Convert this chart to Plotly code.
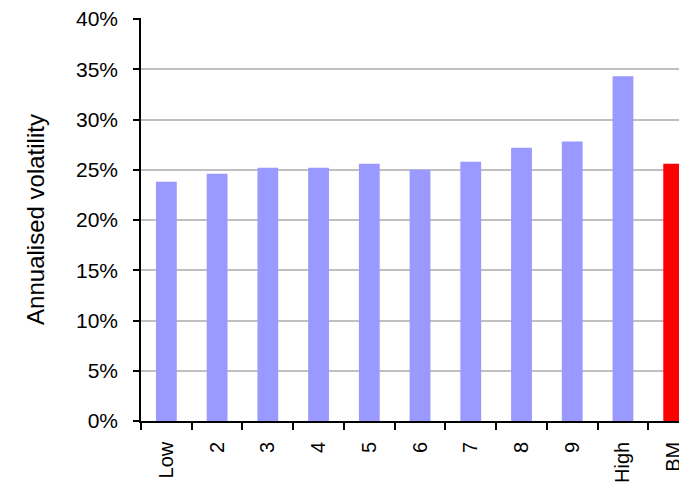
import plotly.graph_objects as go

FONT = "Arial, Liberation Sans, sans-serif"

# annualised volatility per decile, plus the benchmark
deciles = ["Low", "2", "3", "4", "5", "6", "7", "8", "9", "High", "BM"]
volatility = [0.238, 0.246, 0.252, 0.252, 0.256, 0.250, 0.258, 0.272, 0.278, 0.343, 0.256]
benchmark = "BM"

bar_colors = ["#FF0000" if d == benchmark else "#9999FF" for d in deciles]

fig = go.Figure(go.Bar(x=deciles, y=volatility, marker_color=bar_colors,
                       marker_line_width=0))

# the page body adds an 8px offset, so margins are shifted by that much
fig.update_layout(
    width=687, height=490,
    margin=dict(l=133, r=0, t=10, b=77),
    paper_bgcolor="white", plot_bgcolor="white",
    font=dict(family=FONT, size=21, color="black"),
    bargap=0.59,
    showlegend=False,
)
fig.update_xaxes(
    type="category", range=[-0.5, 10.42], automargin=False,
    tickangle=-90, tickson="boundaries", ticks="outside", ticklen=7,
    tickwidth=1.5, tickcolor="black", ticklabelstandoff=11,
    showline=True, linecolor="black", linewidth=1.5,
    showgrid=False, tickfont=dict(size=20),
)
fig.update_yaxes(
    range=[0, 0.401], dtick=0.05, tickformat=".0%", automargin=False,
    ticks="outside", ticklen=6, tickwidth=1.5, tickcolor="black",
    ticklabelstandoff=11, ticklabeloverflow="allow",
    showline=True, linecolor="black", linewidth=1.5,
    showgrid=True, gridcolor="#C0C0C0", gridwidth=1.5, zeroline=False,
    title=dict(text="Annualised volatility", font=dict(size=24), standoff=25),
)

fig.write_html("out.html")
